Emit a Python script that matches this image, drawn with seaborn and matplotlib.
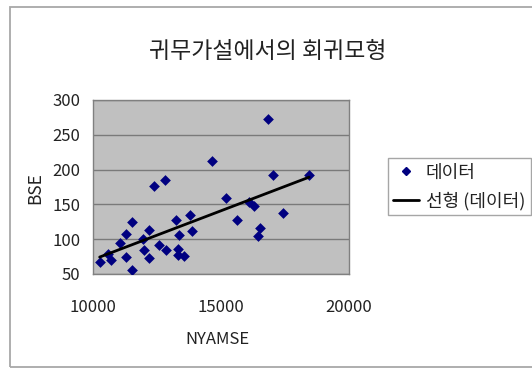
import matplotlib
matplotlib.use("Agg")
import numpy as np
import pandas as pd
import matplotlib.pyplot as plt
from matplotlib.patches import Rectangle
from matplotlib.lines import Line2D
import seaborn as sns

# Observations: NYAMSE (x) against BSE (y)
nyamse = [10260, 10590, 10720, 11280, 11070, 11280, 11540, 11540, 11950, 11980,
          12190, 12190, 12370, 12800, 12580, 12860, 13250, 13360, 13320, 13320,
          13540, 13800, 13880, 14630, 15180, 15610, 16090, 16300, 16520, 16460,
          16840, 17050, 17410, 18440]
bse = [67, 79, 70, 74, 94, 108, 125, 56, 100, 85,
       113, 73, 177, 185, 92, 84, 128, 106, 86, 77,
       76, 135, 112, 212, 159, 128, 154, 148, 116, 105,
       272, 192, 138, 192]

title_text = "귀무가설에서의 회귀모형"
x_label = "NYAMSE"
y_label = "BSE"
series_label = "데이터"
trend_label = "선형 (데이터)"
x_ticks = [10000, 15000, 20000]
y_ticks = [50, 100, 150, 200, 250, 300]

df = pd.DataFrame({"NYAMSE": nyamse, "BSE": bse})

sns.set_style("white")
plt.rcParams["font.family"] = ["Noto Sans CJK KR", "DejaVu Sans"]

W, H = 532, 369
fig = plt.figure(figsize=(W / 100, H / 100), dpi=100)
fig.patch.set_facecolor("white")

# outer chart frame (runs past the right edge)
fig.patches.append(Rectangle((10 / W, 1 - 367 / H), (600 - 10) / W, (367 - 7) / H,
                             transform=fig.transFigure, fill=False,
                             edgecolor="#a8a8a8", linewidth=1.3))

ax = fig.add_axes([93 / W, 1 - 274 / H, (349 - 93) / W, (274 - 100) / H])
ax.set_facecolor("#c0c0c0")

sns.scatterplot(data=df, x="NYAMSE", y="BSE", marker="D", s=30, color="#000080",
                edgecolor="#000080", linewidth=0, ax=ax, zorder=3, legend=False)
sns.regplot(data=df, x="NYAMSE", y="BSE", scatter=False, ci=None, truncate=True,
            color="black", line_kws={"linewidth": 2, "zorder": 4}, ax=ax)

ax.set_xlim(10000, 20000)
ax.set_ylim(50, 300)
ax.set_xticks(x_ticks)
ax.set_yticks(y_ticks)
ax.set_xticklabels([str(t) for t in x_ticks])
ax.set_yticklabels([str(t) for t in y_ticks])
ax.yaxis.grid(True, color="#7a7a7a", linewidth=1)
ax.xaxis.grid(False)
ax.set_axisbelow(True)
for sp in ax.spines.values():
    sp.set_color("#808080")
    sp.set_linewidth(1)
ax.tick_params(axis="x", direction="in", length=5, color="#606060", pad=18,
               labelsize=12, labelcolor="#222222")
ax.tick_params(axis="y", length=0, pad=9, labelsize=12, labelcolor="#222222")
ax.set_xlabel("")
ax.set_ylabel("")

fig.text(268 / W, 1 - 52 / H, title_text, ha="center", va="center",
         fontsize=16.5, color="#222222")
fig.text(217 / W, 1 - 339 / H, x_label, ha="center", va="center",
         fontsize=12, color="#222222")
fig.text(35 / W, 1 - 188 / H, y_label, ha="center", va="center", rotation=90,
         fontsize=12.5, color="#222222")

handles = [
    Line2D([], [], marker="D", linestyle="none", color="#000080", markersize=4),
    Line2D([], [], color="black", linewidth=2),
]
leg = fig.legend(handles, [series_label, trend_label], loc="upper left",
                 bbox_to_anchor=(388 / W, 1 - 158 / H), borderaxespad=0,
                 frameon=True, fancybox=False, edgecolor="#909090",
                 fontsize=13, handlelength=1.4, handletextpad=0.4,
                 borderpad=0.3, labelspacing=0.55)
leg.get_frame().set_linewidth(1)
for t in leg.get_texts():
    t.set_color("#222222")

fig.savefig("out.png", dpi=100)
